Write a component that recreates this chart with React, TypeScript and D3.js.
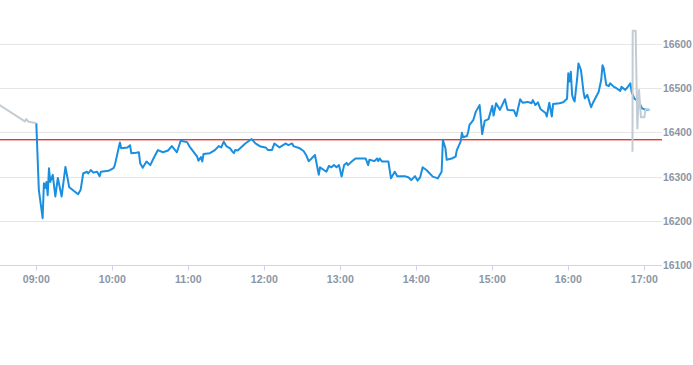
import { useRef, useEffect } from 'react';
import * as d3 from 'd3';

// pre-market (gray), before the open
const preTimes = ['08:31', '08:51', '08:52', '08:54', '09:00'];
const preValues = [16462, 16425, 16430, 16424, 16421];

// trading session (blue)
const sessionTimes = [
  '09:00', '09:02', '09:05', '09:06', '09:07', '09:08', '09:09', '09:10', '09:11', '09:13',
  '09:15', '09:17', '09:20', '09:23', '09:26', '09:33', '09:35', '09:37', '09:40', '09:41',
  '09:43', '09:45', '09:48', '09:50', '09:51', '09:57', '10:01', '10:02', '10:06', '10:07',
  '10:12', '10:14', '10:15', '10:19', '10:21', '10:22', '10:24', '10:27', '10:30', '10:32',
  '10:36', '10:40', '10:44', '10:47', '10:51', '10:54', '10:59', '11:01', '11:07', '11:08',
  '11:10', '11:11', '11:12', '11:17', '11:21', '11:24', '11:26', '11:28', '11:30', '11:33',
  '11:35', '11:36', '11:37', '11:39', '11:45', '11:50', '11:53', '11:57', '12:01', '12:03',
  '12:06', '12:08', '12:12', '12:17', '12:19', '12:22', '12:23', '12:28', '12:31', '12:33',
  '12:35', '12:37', '12:40', '12:43', '12:44', '12:47', '12:49', '12:51', '12:53', '12:55',
  '12:57', '12:59', '13:01', '13:03', '13:05', '13:06', '13:09', '13:12', '13:20', '13:22',
  '13:23', '13:27', '13:29', '13:30', '13:31', '13:33', '13:38', '13:40', '13:43', '13:45',
  '13:51', '13:54', '13:56', '13:59', '14:01', '14:03', '14:05', '14:08', '14:13', '14:17',
  '14:20', '14:21', '14:23', '14:24', '14:28', '14:31', '14:32', '14:35', '14:36', '14:37',
  '14:40', '14:41', '14:42', '14:45', '14:47', '14:50', '14:52', '14:54', '14:57', '15:00',
  '15:01', '15:03', '15:06', '15:10', '15:12', '15:17', '15:19', '15:22', '15:24', '15:28',
  '15:31', '15:32', '15:34', '15:36', '15:38', '15:42', '15:43', '15:45', '15:47', '15:48',
  '15:53', '15:56', '15:59', '16:00', '16:01', '16:02', '16:03', '16:04', '16:05', '16:07',
  '16:08', '16:10', '16:12', '16:13', '16:15', '16:17', '16:18', '16:20', '16:24', '16:26',
  '16:27', '16:28', '16:30', '16:32', '16:33', '16:36', '16:38', '16:41', '16:42', '16:45',
  '16:47', '16:49', '16:50', '16:52', '16:54', '16:57', '16:58', '17:01', '17:04',
];
const sessionValues = [
  16421, 16270, 16206, 16285, 16274, 16288, 16258, 16319, 16288, 16304,
  16255, 16297, 16255, 16322, 16276, 16260, 16270, 16307, 16311, 16307,
  16315, 16309, 16311, 16301, 16311, 16313, 16319, 16326, 16377, 16364,
  16366, 16371, 16353, 16354, 16355, 16330, 16320, 16334, 16326, 16338,
  16360, 16355, 16359, 16369, 16355, 16381, 16378, 16368, 16345, 16336,
  16344, 16334, 16351, 16353, 16360, 16369, 16366, 16379, 16369, 16364,
  16356, 16353, 16360, 16359, 16375, 16385, 16375, 16368, 16366, 16360,
  16360, 16375, 16366, 16375, 16371, 16375, 16369, 16364, 16358, 16349,
  16335, 16340, 16349, 16304, 16321, 16315, 16311, 16324, 16321, 16326,
  16321, 16326, 16300, 16326, 16331, 16326, 16334, 16341, 16341, 16326,
  16338, 16335, 16341, 16335, 16341, 16334, 16334, 16296, 16311, 16301,
  16301, 16298, 16292, 16301, 16291, 16298, 16321, 16315, 16300, 16296,
  16311, 16383, 16364, 16338, 16341, 16345, 16360, 16379, 16399, 16389,
  16392, 16402, 16417, 16428, 16447, 16462, 16396, 16426, 16430, 16460,
  16438, 16466, 16451, 16475, 16451, 16450, 16437, 16475, 16467, 16469,
  16466, 16473, 16462, 16468, 16453, 16444, 16436, 16467, 16436, 16464,
  16466, 16468, 16476, 16534, 16515, 16537, 16485, 16475, 16470, 16522,
  16556, 16541, 16492, 16477, 16485, 16466, 16457, 16470, 16492, 16519,
  16552, 16545, 16507, 16505, 16511, 16503, 16500, 16494, 16503, 16496,
  16503, 16511, 16492, 16477, 16473, 16462, 16455, 16451, 16451,
];

// after-hours (gray)
const postTimes = ['16:50:40', '16:50:50', '16:53:10', '16:54:30', '16:55:50', '16:57:25', '17:00:00', '17:01:05', '17:04:30'];
const postValues = [16356, 16630, 16630, 16409, 16496, 16434, 16434, 16453, 16451];

const referenceLevel = 16386; // previous close
const yTicks = [16100, 16200, 16300, 16400, 16500, 16600];

type Point = { t: Date; v: number };

function parseTime(s: string) {
  const [h, m, sec] = s.split(':').map(Number);
  return new Date(2024, 0, 2, h, m, sec || 0);
}

function toPoints(times: string[], values: number[]): Point[] {
  const n = Math.min(times.length, values.length);
  return d3.range(n).map((i) => ({ t: parseTime(times[i]), v: values[i] }));
}

export default function App() {
  const svgRef = useRef<SVGSVGElement>(null);
  const width = 693;
  const height = 365;
  const plotRight = 662;

  useEffect(() => {
    if (!svgRef.current) return;
    const svg = d3.select(svgRef.current);
    svg.selectAll('*').remove();

    const x = d3
      .scaleTime()
      .domain([parseTime('09:00'), parseTime('17:00')])
      .range([36.3, 644.3]);
    const y = d3.scaleLinear().domain([16100, 16600]).range([265, 44]);

    const labelColor = '#8c96a3';
    const font = '"Liberation Sans", Arial, sans-serif';

    // clip
    svg
      .append('defs')
      .append('clipPath')
      .attr('id', 'plot-clip')
      .append('rect')
      .attr('x', 0)
      .attr('y', 0)
      .attr('width', plotRight)
      .attr('height', 265);

    // grid lines
    svg
      .append('g')
      .selectAll('line')
      .data(yTicks.filter((d) => d > 16100))
      .enter()
      .append('line')
      .attr('x1', 0)
      .attr('x2', plotRight)
      .attr('y1', (d) => Math.round(y(d)) + 0.5)
      .attr('y2', (d) => Math.round(y(d)) + 0.5)
      .attr('stroke', '#e6e6e6')
      .attr('stroke-width', 1);

    // x axis line and ticks
    const axisY = Math.round(y(16100)) + 0.5;
    svg
      .append('line')
      .attr('x1', 0)
      .attr('x2', plotRight)
      .attr('y1', axisY)
      .attr('y2', axisY)
      .attr('stroke', '#ccd6eb');

    const hours = x.ticks(d3.timeHour.every(1)!);
    const xAxis = svg.append('g');
    xAxis
      .selectAll('line')
      .data(hours)
      .enter()
      .append('line')
      .attr('x1', (d) => Math.round(x(d)) + 0.5)
      .attr('x2', (d) => Math.round(x(d)) + 0.5)
      .attr('y1', axisY)
      .attr('y2', axisY + 5)
      .attr('stroke', '#ccd6eb');
    xAxis
      .selectAll('text')
      .data(hours)
      .enter()
      .append('text')
      .attr('x', (d) => x(d))
      .attr('y', 283)
      .attr('text-anchor', 'middle')
      .attr('fill', labelColor)
      .attr('font-family', font)
      .attr('font-size', '10.6px')
      .attr('font-weight', 'bold')
      .text((d) => d3.timeFormat('%H:%M')(d));

    // y labels on the right
    svg
      .append('g')
      .selectAll('text')
      .data(yTicks)
      .enter()
      .append('text')
      .attr('x', 663)
      .attr('y', (d) => y(d) + 4)
      .attr('fill', labelColor)
      .attr('font-family', font)
      .attr('font-size', '10.4px')
      .attr('font-weight', 'bold')
      .text((d) => d);

    // previous close line
    svg
      .append('rect')
      .attr('x', 0)
      .attr('y', Math.round(y(referenceLevel)))
      .attr('width', plotRight)
      .attr('height', 1.4)
      .attr('fill', '#e8382e');

    const line = d3
      .line<Point>()
      .x((d) => x(d.t))
      .y((d) => y(d.v));

    const plot = svg.append('g').attr('clip-path', 'url(#plot-clip)');

    plot
      .append('path')
      .datum(toPoints(sessionTimes, sessionValues))
      .attr('d', line)
      .attr('fill', 'none')
      .attr('stroke', '#1a8fe0')
      .attr('stroke-width', 2)
      .attr('stroke-linejoin', 'round');

    [toPoints(preTimes, preValues), toPoints(postTimes, postValues)].forEach((pts) => {
      plot
        .append('path')
        .datum(pts)
        .attr('d', line)
        .attr('fill', 'none')
        .attr('stroke', '#c2ccd4')
        .attr('stroke-width', 2)
        .attr('stroke-linejoin', 'round');
    });
  }, []);

  return (
    <svg
      ref={svgRef}
      width={width}
      height={height}
      style={{ position: 'absolute', left: 0, top: 0, background: '#fff' }}
    />
  );
}
